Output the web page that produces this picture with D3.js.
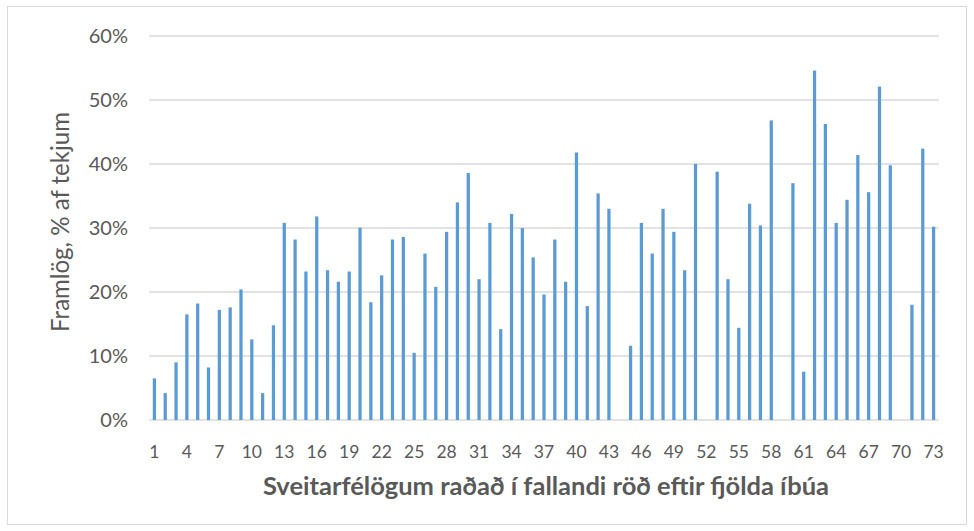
<!DOCTYPE html>
<html><head><meta charset="utf-8">
<script src="https://cdn.jsdelivr.net/npm/d3@7"></script>
<style>body{margin:0;background:#fff;} text{font-family:Lato,"Open Sans",sans-serif;}</style>
</head><body>
<svg id="c" width="974" height="531"></svg>
<script>
const categories = d3.range(1, 74);
const values = [6.5,4.2,9.0,16.5,18.2,8.2,17.2,17.6,20.4,12.6,4.2,14.8,30.8,28.2,23.2,31.8,23.4,21.6,23.2,
30.05,18.4,22.6,28.2,28.6,10.5,26.0,20.8,29.4,34.0,38.6,22.0,30.8,14.2,32.2,30.0,25.4,19.6,
28.2,21.6,41.8,17.8,35.4,33.0,0,11.6,30.8,26.0,33.0,29.4,23.4,40.0,0,38.8,22.0,14.4,33.8,
30.4,46.8,0,37.0,7.55,54.6,46.25,30.8,34.4,41.4,35.6,52.1,39.8,0,18.0,42.4,30.2];
const yTicks = [0,10,20,30,40,50,60];
const xTickLabels = categories.filter(d => (d-1)%3===0);
const xTitle = "Sveitarfélögum raðað í fallandi röð eftir fjölda íbúa";
const yTitle = "Framlög, % af tekjum";

const svg = d3.select("#c");
svg.append("rect").attr("x",7.5).attr("y",6.5).attr("width",959).attr("height",518)
  .attr("fill","#fff").attr("stroke","#d9d9d9").attr("stroke-width",1);

const x = d3.scaleBand().domain(categories).range([149,939]).paddingInner(0.7).paddingOuter(0.35);
const y = d3.scaleLinear().domain([0,60]).range([420,36]);

svg.append("g").selectAll("line").data(yTicks).join("line")
  .attr("x1",149).attr("x2",939).attr("y1",d=>y(d)).attr("y2",d=>y(d))
  .attr("stroke","#d9d9d9").attr("stroke-width",1.5);

svg.append("g").selectAll("rect").data(values.map((v,i)=>({c:categories[i],v}))).join("rect")
  .attr("x",d=>x(d.c)).attr("width",x.bandwidth())
  .attr("y",d=>y(d.v)).attr("height",d=>y(0)-y(d.v)).attr("fill","#5b9bd5");

const ya = svg.append("g").attr("transform","translate(128,0)")
  .call(d3.axisLeft(y).tickValues(yTicks).tickFormat(d=>d+"%").tickSize(0).tickPadding(0));
ya.select(".domain").remove();
ya.selectAll("text").attr("fill","#595959").style("font-size","20px").style("font-family","Lato");

const xa = svg.append("g").attr("transform","translate(0,445.5)")
  .call(d3.axisBottom(x).tickValues(xTickLabels).tickSize(0).tickPadding(0));
xa.select(".domain").remove();
xa.selectAll("text").attr("fill","#595959").style("font-size","17.5px").style("font-family","Lato");

function fit(sel, target){
  const w = sel.node().getComputedTextLength();
  const s = parseFloat(sel.style("font-size"));
  sel.style("font-size", (s*target/w).toFixed(2)+"px");
}
const xt = svg.append("text").attr("x",546).attr("y",495).attr("text-anchor","middle")
  .attr("fill","#595959").style("font-size","20px").style("font-weight","bold")
  .text(xTitle);
fit(xt, 566);
const yt = svg.append("text").attr("transform","translate(69,222) rotate(-90)").attr("text-anchor","middle")
  .attr("fill","#595959").style("font-size","20px")
  .text(yTitle);
fit(yt, 220);
</script>
</body></html>
